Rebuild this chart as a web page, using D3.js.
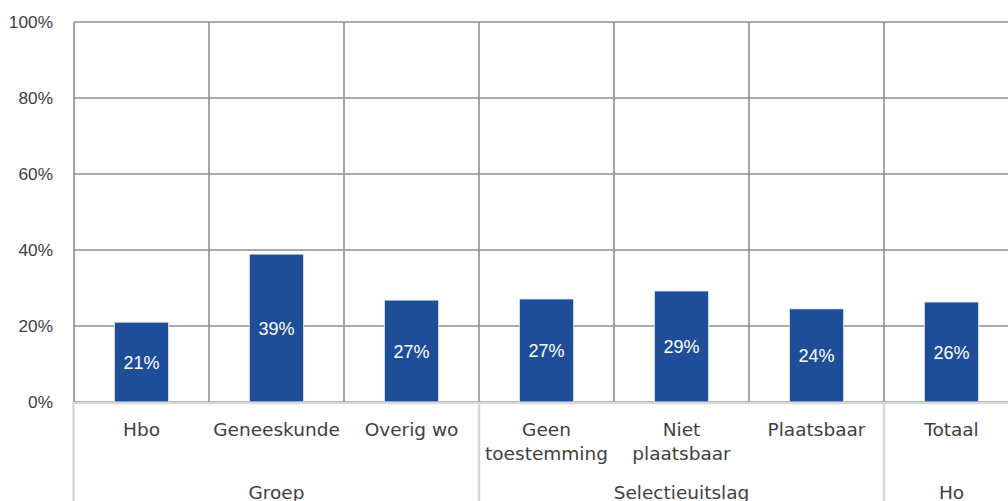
<!DOCTYPE html>
<html>
<head>
<meta charset="utf-8">
<script src="https://cdn.jsdelivr.net/npm/d3@7"></script>
<style>
  html, body { margin: 0; padding: 0; background: #fff; overflow: hidden; }
  svg { display: block; }
</style>
</head>
<body>
<svg id="chart" width="1008" height="501"></svg>
<script>
// ---- data ----
const categories = ["Hbo", "Geneeskunde", "Overig wo", "Geen\ntoestemming", "Niet\nplaatsbaar", "Plaatsbaar", "Totaal"];
const values = [21.0, 38.9, 26.8, 27.1, 29.2, 24.5, 26.3];
const valueLabels = ["21%", "39%", "27%", "27%", "29%", "24%", "26%"];
const groups = ["Groep", "Selectieuitslag", "Ho"];
const groupSizes = [3, 3, 1];
const yTicks = [0, 20, 40, 60, 80, 100];

(function () {
// ---- layout ----
const svg = d3.select("#chart");
const plotLeft = 74, plotTop = 22, plotBottom = 402;
const bandW = 135;
const plotRight = plotLeft + bandW * categories.length;

const x = d3.scaleBand().domain(d3.range(categories.length)).range([plotLeft, plotRight]).padding(0);
const y = d3.scaleLinear().domain([0, 100]).range([plotBottom, plotTop]);

const gridColor = "#8f8f8f";
const axisColor = "#d9d9d9";
const textColor = "#404040";

// horizontal gridlines
svg.append("g").selectAll("line").data(yTicks).join("line")
  .attr("x1", plotLeft).attr("x2", plotRight)
  .attr("y1", d => y(d)).attr("y2", d => y(d))
  .attr("stroke", gridColor).attr("stroke-width", 1.6);

// vertical gridlines in plot
svg.append("g").selectAll("line").data(d3.range(categories.length + 1)).join("line")
  .attr("x1", i => plotLeft + i * x.bandwidth()).attr("x2", i => plotLeft + i * x.bandwidth())
  .attr("y1", plotTop).attr("y2", plotBottom)
  .attr("stroke", gridColor).attr("stroke-width", 1.6);

// y tick labels
svg.append("g").selectAll("text").data(yTicks).join("text")
  .attr("x", 53).attr("y", d => y(d))
  .attr("dy", "0.36em")
  .attr("text-anchor", "end")
  .attr("font-family", "Liberation Sans, Arial, sans-serif")
  .attr("font-size", 17.3)
  .attr("fill", textColor)
  .text(d => d + "%");

// bars
const barW = x.bandwidth() * 0.4;
svg.append("g").selectAll("rect").data(values).join("rect")
  .attr("x", (d, i) => x(i) + (x.bandwidth() - barW) / 2)
  .attr("y", d => y(d))
  .attr("width", barW)
  .attr("height", d => y(0) - y(d))
  .attr("fill", "#1f4e99")
  .attr("stroke", "#dde4f0").attr("stroke-width", 0.8);

// value labels
svg.append("g").selectAll("text").data(values).join("text")
  .attr("x", (d, i) => x(i) + x.bandwidth() / 2)
  .attr("y", d => (y(d) + y(0)) / 2)
  .attr("dy", "0.36em")
  .attr("text-anchor", "middle")
  .attr("font-family", "Liberation Sans Narrow, Arial Narrow, sans-serif")
  .attr("font-size", 18)
  .attr("fill", "#ffffff")
  .text((d, i) => valueLabels[i]);

// category axis base line
svg.append("line")
  .attr("x1", plotLeft - 1).attr("x2", plotRight)
  .attr("y1", plotBottom + 1).attr("y2", plotBottom + 1)
  .attr("stroke", axisColor).attr("stroke-width", 2.5);

// group separators
let acc = 0;
const seps = [0];
groupSizes.forEach(s => { acc += s; seps.push(acc); });
svg.append("g").selectAll("line").data(seps).join("line")
  .attr("x1", i => plotLeft + i * x.bandwidth() - (i === 0 ? 0.5 : 0))
  .attr("x2", i => plotLeft + i * x.bandwidth() - (i === 0 ? 0.5 : 0))
  .attr("y1", plotBottom).attr("y2", 501)
  .attr("stroke", axisColor).attr("stroke-width", 2.5);

// category labels
const catG = svg.append("g");
categories.forEach((c, i) => {
  const t = catG.append("text")
    .attr("x", x(i) + x.bandwidth() / 2)
    .attr("y", 436)
    .attr("text-anchor", "middle")
    .attr("font-family", "DejaVu Sans, sans-serif")
    .attr("font-size", 18.5)
    .attr("fill", textColor);
  c.split("\n").forEach((line, j) => {
    t.append("tspan")
      .attr("x", x(i) + x.bandwidth() / 2)
      .attr("dy", j === 0 ? 0 : 24)
      .text(line);
  });
});

// group labels
let start = 0;
groups.forEach((g, k) => {
  const x0 = plotLeft + start * x.bandwidth();
  const x1 = plotLeft + (start + groupSizes[k]) * x.bandwidth();
  svg.append("text")
    .attr("x", (x0 + x1) / 2)
    .attr("y", 499)
    .attr("text-anchor", "middle")
    .attr("font-family", "DejaVu Sans, sans-serif")
    .attr("font-size", 18.5)
    .attr("fill", textColor)
    .text(g);
  start += groupSizes[k];
});
})();
</script>
</body>
</html>
